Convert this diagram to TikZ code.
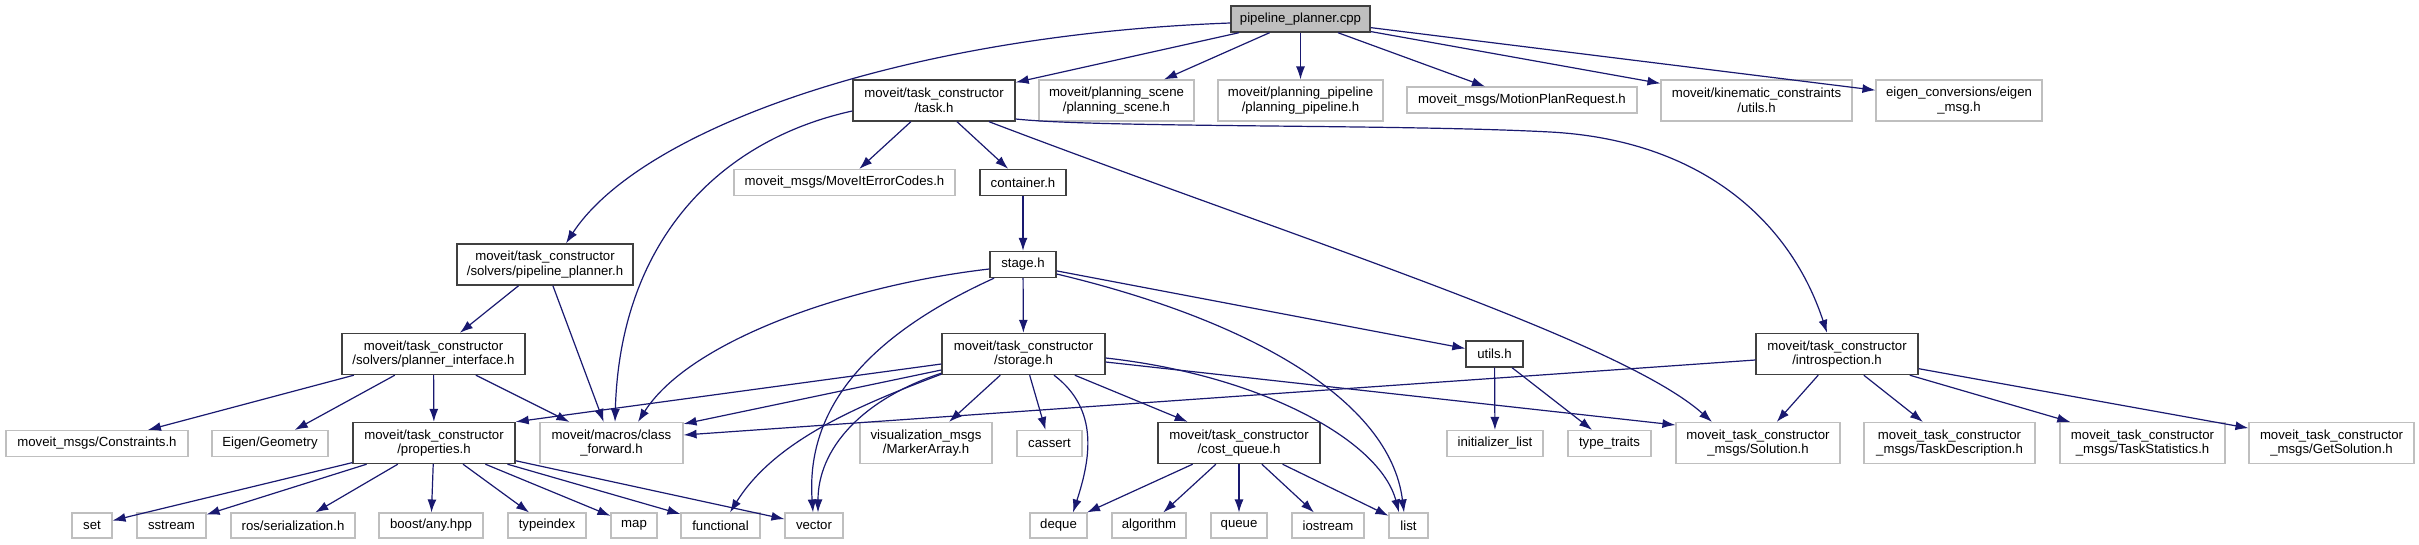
\documentclass[tikz,border=0pt]{standalone}
\usepackage{fontspec}
\setmainfont{Liberation Sans}
\usetikzlibrary{arrows.meta,calc}
\definecolor{edgeblue}{HTML}{191970}
\definecolor{grayfill}{HTML}{BFBFBF}
\definecolor{lightb}{HTML}{BFBFBF}
\definecolor{darkb}{HTML}{404040}
\begin{document}
\begin{tikzpicture}[x=1pt,y=-1pt,
  nd/.style={inner sep=0pt, align=center, font=\fontsize{13.2pt}{14.7pt}\selectfont, fill=white},
  hdr/.style={nd, draw=darkb, line width=1.4pt},
  ext/.style={nd, draw=lightb, line width=1.1pt},
  sz/.style 2 args={minimum width=#1pt, minimum height=#2pt},
  dep/.style={draw=edgeblue, line width=1.2pt, -{Latex[length=13pt,width=9pt]}},
]
\fill[white] (0,0) rectangle (2419,544);
\useasboundingbox (0,0) rectangle (2419,544);

% row 1
\node[hdr, sz={139}{26}, fill=grayfill] (cpp) at (1300.5,19) {pipeline\_planner.cpp};
\node[hdr, sz={162}{41}] (task) at (934,100.5) {moveit/task\_constructor\\/task.h};
\node[ext, sz={155}{41}] (ps) at (1116.5,100.5) {moveit/planning\_scene\\/planning\_scene.h};
\node[ext, sz={165}{41}] (pp) at (1300.5,100.5) {moveit/planning\_pipeline\\/planning\_pipeline.h};
\node[ext, sz={230}{26}] (mpr) at (1522,100) {moveit\_msgs/MotionPlanRequest.h};
\node[ext, sz={191}{41}] (kc) at (1756.5,100.5) {moveit/kinematic\_constraints\\/utils.h};
\node[ext, sz={166}{41}] (em) at (1959,100.5) {eigen\_conversions/eigen\\\_msg.h};

% row 2-3
\node[hdr, sz={176}{41}] (pph) at (545,264.5) {moveit/task\_constructor\\/solvers/pipeline\_planner.h};
\node[ext, sz={221}{26}] (mec) at (844.5,182.5) {moveit\_msgs/MoveItErrorCodes.h};
\node[hdr, sz={86}{26}] (cont) at (1023,182.5) {container.h};
\node[hdr, sz={66}{26}] (stage) at (1023,264.5) {stage.h};

% row 4
\node[hdr, sz={183}{41}] (pi) at (433.5,354) {moveit/task\_constructor\\/solvers/planner\_interface.h};
\node[hdr, sz={163}{41}] (stor) at (1023.5,354) {moveit/task\_constructor\\/storage.h};
\node[hdr, sz={57}{26}] (utils) at (1494.5,354) {utils.h};
\node[hdr, sz={162}{41}] (intro) at (1837,354) {moveit/task\_constructor\\/introspection.h};

% row 5
\node[ext, sz={182}{26}] (cons) at (97,443.5) {moveit\_msgs/Constraints.h};
\node[ext, sz={116}{26}] (eig) at (270,443.5) {Eigen/Geometry};
\node[hdr, sz={162}{41}] (prop) at (434,443) {moveit/task\_constructor\\/properties.h};
\node[ext, sz={143}{41}] (cf) at (611.5,443) {moveit/macros/class\\\_forward.h};
\node[ext, sz={132}{41}] (ma) at (926,443) {visualization\_msgs\\/MarkerArray.h};
\node[ext, sz={65}{26}] (cas) at (1049.5,443.5) {cassert};
\node[hdr, sz={162}{41}] (cq) at (1239,443) {moveit/task\_constructor\\/cost\_queue.h};
\node[ext, sz={96}{26}] (il) at (1495,443.5) {initializer\_list};
\node[ext, sz={83}{26}] (tt) at (1609.5,443.5) {type\_traits};
\node[ext, sz={164}{41}] (sol) at (1758,443) {moveit\_task\_constructor\\\_msgs/Solution.h};
\node[ext, sz={171}{41}] (td) at (1949.5,443) {moveit\_task\_constructor\\\_msgs/TaskDescription.h};
\node[ext, sz={165}{41}] (ts) at (2142.5,443) {moveit\_task\_constructor\\\_msgs/TaskStatistics.h};
\node[ext, sz={165}{41}] (gs) at (2331.5,443) {moveit\_task\_constructor\\\_msgs/GetSolution.h};

% row 6
\node[ext, sz={40}{25}] (set) at (92,525.5) {set};
\node[ext, sz={69}{25}] (sst) at (171.5,525.5) {sstream};
\node[ext, sz={124}{25}] (ser) at (293,525.5) {ros/serialization.h};
\node[ext, sz={104}{25}] (any) at (431,525.5) {boost/any.hpp};
\node[ext, sz={78}{25}] (ti) at (547,525.5) {typeindex};
\node[ext, sz={46}{25}] (map) at (634,525.5) {map};
\node[ext, sz={79}{25}] (fun) at (720.5,525.5) {functional};
\node[ext, sz={58}{25}] (vec) at (814,525.5) {vector};
\node[ext, sz={57}{25}] (deq) at (1058.5,525.5) {deque};
\node[ext, sz={74}{25}] (alg) at (1149,525.5) {algorithm};
\node[ext, sz={56}{25}] (que) at (1239,525.5) {queue};
\node[ext, sz={72}{25}] (ios) at (1328,525.5) {iostream};
\node[ext, sz={39}{25}] (lst) at (1408.5,525.5) {list};

% edges from cpp
\draw[dep] (cpp) -- (task);
\draw[dep] (cpp) -- (ps);
\draw[dep] (cpp) -- (pp);
\draw[dep] (cpp) -- (mpr);
\draw[dep] (cpp) -- (kc);
\draw[dep] (cpp) -- (em);
\draw[dep] ($(cpp.west)+(0,4)$) .. controls (900,35) and (640,130) .. ($(pph.north)+(21,0)$);

% edges from task
\draw[dep] (task) -- (mec);
\draw[dep] (task) -- (cont);
\draw[dep] ($(task.south)+(55,0)$) .. controls (1300,240) and (1620,340) .. ($(sol.north)+(-46,0)$);
\draw[dep] ($(task.west)+(0,10.5)$) .. controls (720,140) and (620,240) .. ($(cf.north)+(3.5,0)$);
\draw[dep] ($(task.east)+(0,18.5)$) .. controls (1100,128) and (1400,124) .. (1550,132)
  .. controls (1700,140) and (1790,220) .. ($(intro.north)+(-10,0)$);

% container, stage
\draw[dep] (cont) -- (stage);
\draw[dep] (stage) -- (stor);
\draw[dep] (stage) -- (utils);
\draw[dep] ($(stage.west)+(0,4.5)$) .. controls (850,285) and (690,340) .. ($(cf.north)+(26.5,0)$);
\draw[dep] ($(stage.south)+(-29,0)$) .. controls (880,330) and (805,400) .. ($(vec.north)+(-1,0)$);
\draw[dep] ($(stage.east)+(0,9.5)$) .. controls (1250,320) and (1390,400) .. ($(lst.north)+(-4.5,0)$);

% pipeline_planner.h
\draw[dep] (pph) -- (pi);
\draw[dep] (pph) -- (cf);

% planner_interface
\draw[dep] (pi) -- (cons);
\draw[dep] (pi) -- (eig);
\draw[dep] (pi) -- (prop);
\draw[dep] (pi) -- (cf);

% properties
\draw[dep] (prop) -- (set);
\draw[dep] (prop) -- (sst);
\draw[dep] (prop) -- (ser);
\draw[dep] (prop) -- (any);
\draw[dep] (prop) -- (ti);
\draw[dep] (prop) -- (map);
\draw[dep] (prop) -- (fun);
\draw[dep] (prop) -- (vec);

% storage
\draw[dep] ($(stor.west)+(0,10)$) -- (prop.north east);
\draw[dep] ($(stor.west)+(0,16)$) -- ($(cf.north east)+(0,2)$);
\draw[dep] ($(stor.south west)+(0,-2)$) .. controls (860,400) and (818,450) .. ($(vec.north)+(4,0)$);
\draw[dep] ($(stor.south west)+(0,-1)$) .. controls (860,405) and (775,440) .. ($(fun.north)+(9.5,0)$);
\draw[dep] (stor) -- (ma);
\draw[dep] (stor) -- (cas);
\draw[dep] ($(stor.south)+(30.5,0)$) .. controls (1100,410) and (1090,460) .. ($(deq.north)+(14.5,0)$);
\draw[dep] (stor) -- (cq);
\draw[dep] ($(stor.east)+(0,4)$) .. controls (1260,375) and (1380,440) .. ($(lst.north)+(-9.5,0)$);
\draw[dep] ($(stor.east)+(0,8)$) -- ($(sol.west)+(0,-18)$);

% cost_queue
\draw[dep] (cq) -- (deq);
\draw[dep] (cq) -- (alg);
\draw[dep] (cq) -- (que);
\draw[dep] (cq) -- (ios);
\draw[dep] (cq) -- (lst);

% utils
\draw[dep] (utils) -- (il);
\draw[dep] (utils) -- (tt);

% introspection
\draw[dep] ($(intro.west)+(0,6)$) -- ($(cf.east)+(0,-8)$);
\draw[dep] (intro) -- (sol);
\draw[dep] (intro) -- (td);
\draw[dep] (intro) -- (ts);
\draw[dep] (intro) -- (gs);
\end{tikzpicture}
\end{document}
